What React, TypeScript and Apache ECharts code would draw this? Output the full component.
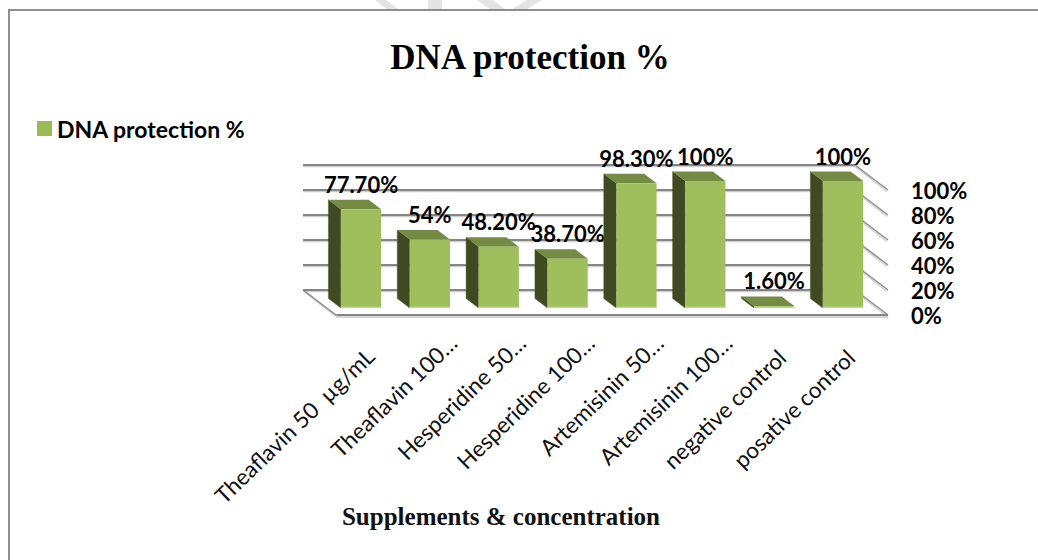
import React, { useEffect, useRef } from "react";
import * as echarts from "echarts";

const categories = [
  "Theaflavin 50  µg/mL",
  "Theaflavin 100…",
  "Hesperidine 50…",
  "Hesperidine 100…",
  "Artemisinin 50…",
  "Artemisinin 100…",
  "negative control",
  "posative control",
];
const seriesValues = [77.7, 54, 48.2, 38.7, 98.3, 100, 1.6, 100];
const valueLabels = ["77.70%", "54%", "48.20%", "38.70%", "98.30%", "100%", "1.60%", "100%"];
const axisTicks = [0, 20, 40, 60, 80, 100];
const seriesName = "DNA protection %";
const titleText = "DNA protection %";
const axisTitle = "Supplements & concentration";
const sans = "Lato";
const serif = "Liberation Serif";

const wallDepth = { dx: -33, dy: -25 };
const barDepth = { dx: -12.5, dy: -9.5 };
const labelPadding: Record<string, number[]> = {
  "Theaflavin 50  µg/mL": [13, 19, 0, 0],
  "negative control": [0, 21, 10, 0],
  "posative control": [0, 21, 10, 0],
};

function renderWall(_p: any, api: any) {
  const v = api.value(1);
  const l = api.coord([0, v]);
  const r = api.coord([1, v]);
  const bx0 = l[0] + wallDepth.dx;
  const bx1 = r[0] + wallDepth.dx;
  const by = l[1] + wallDepth.dy;
  const line = (x1: number, y1: number, x2: number, y2: number, stroke: string, w: number) => ({
    type: "line",
    shape: { x1, y1, x2, y2 },
    style: { stroke, lineWidth: w, fill: null },
  });
  const kids: any[] = [
    line(bx0, by + 1.6, bx1, by + 1.6, "#cfcfcf", 1.5),
    line(bx0, by, bx1, by, "#868686", 2),
    line(bx1, by + 1.5, r[0] - 1, r[1] + 1.5, "#d0d0d0", 1.5),
    line(bx1, by, r[0], r[1], "#8a8a8a", 1.4),
  ];
  if (v === 0) {
    kids.push(
      line(l[0], l[1] + 2, r[0], r[1] + 2, "#d6d6d6", 2),
      line(l[0], l[1], r[0], r[1], "#868686", 2),
      line(bx0 + 2, by + 2, l[0] + 1, l[1] + 2, "#d0d0d0", 2),
      line(bx0, by, l[0], l[1], "#8a8a8a", 1.4)
    );
  }
  return { type: "group", children: kids };
}

function renderBar(_p: any, api: any) {
  const i = api.value(0);
  const v = api.value(1);
  const top = api.coord([i, v]);
  const base = api.coord([i, 0]);
  const w = api.size([1, 0])[0] * 0.585;
  const x0 = top[0] - w / 2;
  const x1 = top[0] + w / 2;
  const { dx, dy } = barDepth;
  return {
    type: "group",
    children: [
      {
        type: "polygon",
        shape: { points: [[x0, top[1]], [x0 + dx, top[1] + dy], [x0 + dx, base[1] + dy], [x0, base[1]]] },
        style: { fill: "#3f4a23", stroke: "#556331", lineWidth: 0.5 },
      },
      {
        type: "polygon",
        shape: { points: [[x0, top[1]], [x1, top[1]], [x1 + dx, top[1] + dy], [x0 + dx, top[1] + dy]] },
        style: { fill: "#748b43" },
      },
      {
        type: "rect",
        shape: { x: x0, y: top[1], width: w, height: base[1] - top[1] },
        style: { fill: "#9fbe5c" },
      },
      {
        type: "rect",
        shape: { x: x0, y: base[1] - 1.5, width: w, height: 1.5 },
        style: { fill: "#c0d68c" },
      },
      {
        type: "text",
        style: {
          x: top[0],
          y: top[1] - 25,
          text: valueLabels[i],
          textAlign: "center",
          textVerticalAlign: "middle",
          fill: "#000",
          font: `bold 22px ${sans}`,
        },
      },
    ],
  };
}

function renderStripes() {
  const stripes = [
    [375, 386, 398, 387],
    [428, 442, 442, 428],
    [477, 493, 505, 490],
    [527, 542, 527, 512],
  ];
  return {
    type: "group",
    children: stripes.map((s) => ({
      type: "polygon",
      shape: { points: [[s[0], 0], [s[1], 0], [s[2], 9], [s[3], 9]] },
      style: { fill: "#e4e4e4" },
    })),
  };
}

export default function App() {
  const ref = useRef<HTMLDivElement>(null);
  useEffect(() => {
    const chart = echarts.init(ref.current!, undefined, { renderer: "svg" });
    chart.setOption({
      animation: false,
      backgroundColor: "#ffffff",
      title: [
        {
          text: titleText,
          left: 525,
          top: 35,
          textAlign: "center",
          textStyle: { fontFamily: serif, fontWeight: "bold", fontSize: 35, color: "#000" },
        },
        {
          text: axisTitle,
          left: 496,
          top: 499,
          textAlign: "center",
          textStyle: { fontFamily: serif, fontWeight: "bold", fontSize: 25, color: "#111" },
        },
      ],
      legend: {
        left: 32,
        top: 112,
        itemWidth: 15,
        itemHeight: 15,
        itemGap: 6,
        data: [{ name: seriesName, icon: "rect", itemStyle: { color: "#9bbb59" } }],
        textStyle: { fontFamily: sans, fontWeight: "bold", fontSize: 23, color: "#000" },
      },
      grid: [
        { left: 336, width: 552, top: 190, height: 125 },
        { left: 326.6, width: 550.8, top: 181, height: 127 },
        { left: 349.6, width: 550.8, top: 181, height: 127 },
      ],
      xAxis: [
        { type: "value", gridIndex: 0, min: 0, max: 1, show: false },
        { type: "category", gridIndex: 1, data: categories, show: false },
        {
          type: "category",
          gridIndex: 2,
          data: categories.map((c) =>
            labelPadding[c] ? { value: c, textStyle: { padding: labelPadding[c] } } : c
          ),
          axisLine: { show: false },
          axisTick: { show: false },
          axisLabel: {
            interval: 0,
            rotate: 44,
            margin: 31,
            fontFamily: sans,
            fontSize: 22.5,
            color: "#111",
          },
        },
      ],
      yAxis: [
        {
          type: "value",
          gridIndex: 0,
          position: "right",
          min: 0,
          max: 100,
          interval: 20,
          axisLine: { show: false },
          axisTick: { show: false },
          splitLine: { show: false },
          axisLabel: {
            margin: 23,
            align: "left",
            padding: [5, 0, 0, 0],
            fontFamily: sans,
            fontWeight: "bold",
            fontSize: 22,
            color: "#000",
            formatter: "{value}%",
          },
        },
        { type: "value", gridIndex: 1, min: 0, max: 100, show: false },
        { type: "value", gridIndex: 2, min: 0, max: 100, show: false },
      ],
      series: [
        {
          type: "custom",
          name: "wall",
          xAxisIndex: 0,
          yAxisIndex: 0,
          clip: false,
          silent: true,
          z: 1,
          data: axisTicks.map((t) => [0, t]),
          renderItem: renderWall,
        },
        {
          type: "custom",
          name: "stripes",
          xAxisIndex: 0,
          yAxisIndex: 0,
          clip: false,
          silent: true,
          z: 0,
          data: [[0, 0]],
          renderItem: renderStripes,
        },
        {
          type: "custom",
          name: seriesName,
          xAxisIndex: 1,
          yAxisIndex: 1,
          clip: false,
          z: 3,
          itemStyle: { color: "#9bbb59" },
          data: seriesValues.map((v, i) => [i, v]),
          renderItem: renderBar,
        },
      ],
      graphic: [
        {
          type: "polyline",
          z: 5,
          shape: { points: [[9, 560], [9, 10], [1038, 10]] },
          style: { stroke: "#8e8e8e", lineWidth: 2, fill: null },
        },
      ],
    });
    return () => chart.dispose();
  }, []);
  return <div ref={ref} style={{ position: "fixed", left: 0, top: 0, width: 1038, height: 560 }} />;
}
